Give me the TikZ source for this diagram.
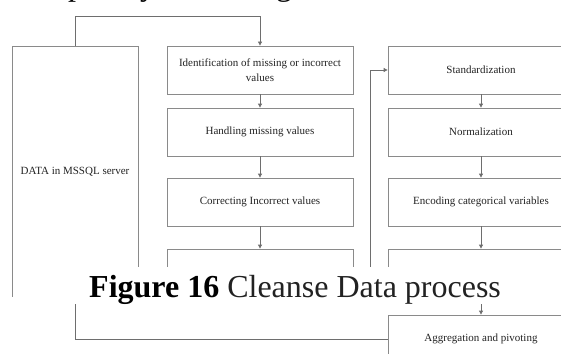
\documentclass[tikz,border=0pt]{standalone}
\usepackage{fontspec}
\setmainfont{Liberation Serif}
\usetikzlibrary{arrows.meta}
\definecolor{edgegray}{HTML}{8A8A8A}
\definecolor{wiregray}{HTML}{6E6E6E}
\definecolor{inkdark}{HTML}{222222}
\begin{document}
\begin{tikzpicture}[x=1pt,y=-1pt,
  stepbox/.style={draw=edgegray, line width=0.8pt, minimum width=186pt,
    minimum height=48pt, align=center, text=inkdark, inner sep=2pt,
    font=\fontsize{11}{14.5}\selectfont},
  wire/.style={draw=wiregray, line width=0.8pt},
  tip/.style={-{Triangle[length=4pt,width=4pt]}},
  headfrag/.style={anchor=base, inner sep=0pt, font=\fontsize{32}{36}\selectfont}]
\useasboundingbox (0,0) rectangle (561,353);
\clip (0,0) rectangle (561,353);

% descenders of the heading line above the diagram
\node[headfrag] (hp) at (76,-4) {p};
\node[headfrag] (hy) at (148,-4) {y};
\node[headfrag] (hg) at (284,-4) {g};

% source box
\node[stepbox, minimum width=126pt, minimum height=251pt] (src) at (75,171.5) {DATA in MSSQL server};

% cleaning column
\node[stepbox] (c1) at (260,70) {Identification of missing or incorrect\\values};
\node[stepbox] (c2) at (260,132) {Handling missing values};
\node[stepbox] (c3) at (260,202) {Correcting Incorrect values};
\node[stepbox] (c4) at (260,273) {};

% transformation column
\node[stepbox] (t1) at (481,70) {Standardization};
\node[stepbox] (t2) at (481,132) {Normalization};
\node[stepbox] (t3) at (481,202) {Encoding categorical variables};
\node[stepbox] (t4) at (481,273) {};
\node[stepbox] (t5) at (481,339) {Aggregation and pivoting};

% connectors
\draw[wire, tip] (src.north) -- (75,16) -| (c1.north);
\draw[wire, tip] (c1) -- (c2);
\draw[wire, tip] (c2) -- (c3);
\draw[wire, tip] (c3) -- (c4);
\draw[wire, tip] (c4.east) -- (370,273) |- (t1.west);
\draw[wire, tip] (t1) -- (t2);
\draw[wire, tip] (t2) -- (t3);
\draw[wire, tip] (t3) -- (t4);
\draw[wire, tip] (t4) -- (t5);
\draw[wire, tip] (t5.west) -| (src.south);

% caption laid over the diagram
\fill[white] (14,267) rectangle (561,304);
\fill[white] (0,297) rectangle (14,304);
\node[anchor=base west, inner sep=0pt, text=black, font=\fontsize{32}{36}\selectfont] (cap) at (89,297)
  {\textbf{Figure 16} {\color{inkdark}Cleanse Data process}};
\end{tikzpicture}
\end{document}
